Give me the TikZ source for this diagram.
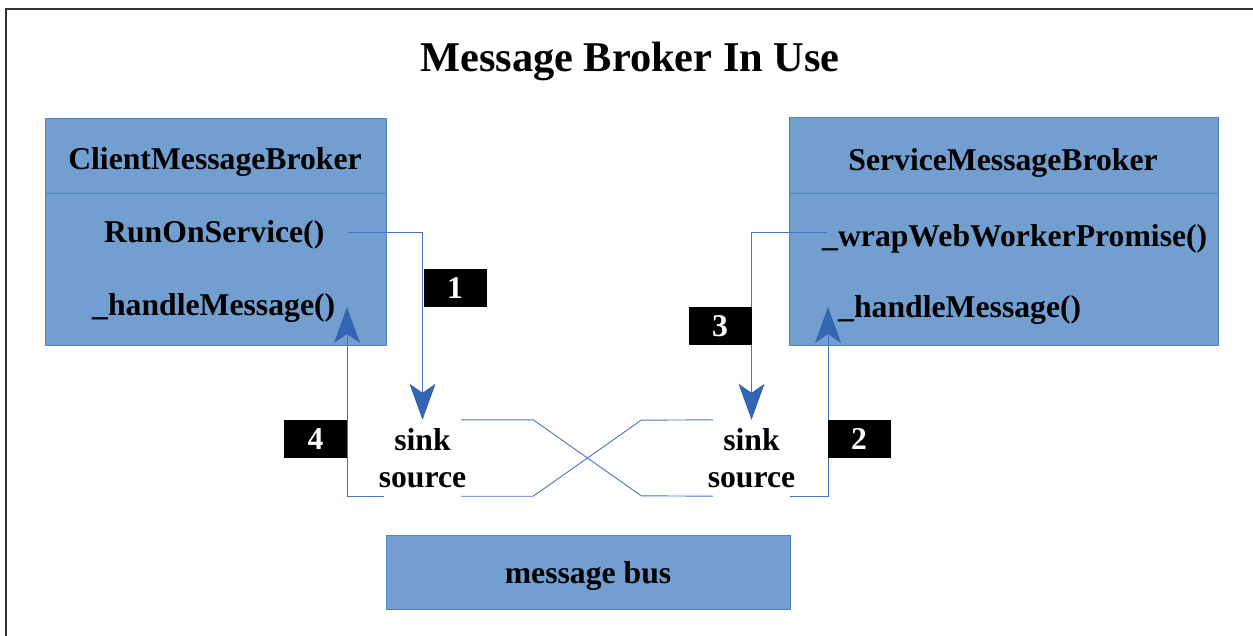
\documentclass[tikz,border=0pt]{standalone}
\usepackage{fontspec}
\setmainfont{Liberation Serif}
\usetikzlibrary{arrows.meta}
\definecolor{boxfill}{RGB}{114,159,207}
\definecolor{boxline}{RGB}{79,129,189}
\definecolor{wirec}{RGB}{68,114,196}
\definecolor{tipc}{RGB}{52,101,178}
\begin{document}
\begin{tikzpicture}[x=1pt,y=-1pt,
  umlbox/.style={draw=boxline, fill=boxfill, line width=0.9pt, inner sep=0, anchor=north west},
  txt/.style={font=\fontsize{31.7pt}{37pt}\selectfont\bfseries, inner sep=0, text=black},
  ttl/.style={font=\fontsize{42.4pt}{48pt}\selectfont\bfseries, inner sep=0},
  endpt/.style={minimum width=77pt, minimum height=76pt, inner sep=0, align=center,
    font=\fontsize{31.7pt}{37pt}\selectfont\bfseries},
  lab/.style={fill=black, text=white, minimum width=63pt, minimum height=38pt, inner sep=0,
    font=\fontsize{31.7pt}{37pt}\selectfont\bfseries},
  wire/.style={draw=wirec, line width=0.9pt},
  arr/.style={wire, -{Stealth[length=36pt,width=26pt,inset=9pt,color=tipc]}}
]
\useasboundingbox (0,0) rectangle (1253,636);
\draw[line width=2pt, black!80] (1253,9) -- (6,9) -- (6,636);

% title
\node[ttl, anchor=base] (title) at (630,72) {Message Broker In Use};

% client broker
\node[umlbox, minimum width=341pt, minimum height=227pt] (cmb) at (45,118) {};
\draw[boxline, line width=0.9pt] ([yshift=-75pt]cmb.north west) -- ([yshift=-75pt]cmb.north east);
\node[txt, anchor=base] (cmbt) at (215,170) {ClientMessageBroker};
\node[txt, anchor=base west] (ros) at (104,243) {RunOnService()};
\node[txt, anchor=base west] (chm) at (92,316) {\_handleMessage()};

% service broker
\node[umlbox, minimum width=429pt, minimum height=228pt] (smb) at (789,117) {};
\draw[boxline, line width=0.9pt] ([yshift=-76pt]smb.north west) -- ([yshift=-76pt]smb.north east);
\node[txt, anchor=base] (smbt) at (1003,171) {ServiceMessageBroker};
\node[txt, anchor=base west] (wwp) at (822,247) {\_wrapWebWorkerPromise()};
\node[txt, anchor=base west] (shm) at (838,318) {\_handleMessage()};

% message bus
\node[umlbox, minimum width=404pt, minimum height=74pt] (bus) at (386,535) {};
\node[txt, anchor=base] (bust) at (588,583) {message bus};

% sink/source endpoints
\node[endpt] (ls) at (422.5,458) {\makebox[0pt]{sink}\\\makebox[0pt]{source}};
\node[endpt] (rs) at (751.5,458) {\makebox[0pt]{sink}\\\makebox[0pt]{source}};

% free ends
\coordinate (a1s) at (348,232);
\coordinate (a3s) at (827,232);
\coordinate (a4e) at (347,307);
\coordinate (a2e) at (828,307);

% connectors
\draw[arr] (a1s) -| (ls.north);
\draw[arr] (a3s) -| (rs.north);
\draw[arr] (ls.south west) -| (a4e);
\draw[arr] (rs.south east) -| (a2e);
\draw[wire] (ls.north east) -- ++(72,0) -- ++(108,76) -- (rs.south west);
\draw[wire] (ls.south east) -- ++(72,0) -- ++(108,-76) -- (rs.north west);

% step labels
\node[lab] (l1) at (455,288) {1};
\node[lab] (l3) at (720,326) {3};
\node[lab] (l4) at (315.5,439) {4};
\node[lab] (l2) at (859,439) {2};
\end{tikzpicture}
\end{document}
